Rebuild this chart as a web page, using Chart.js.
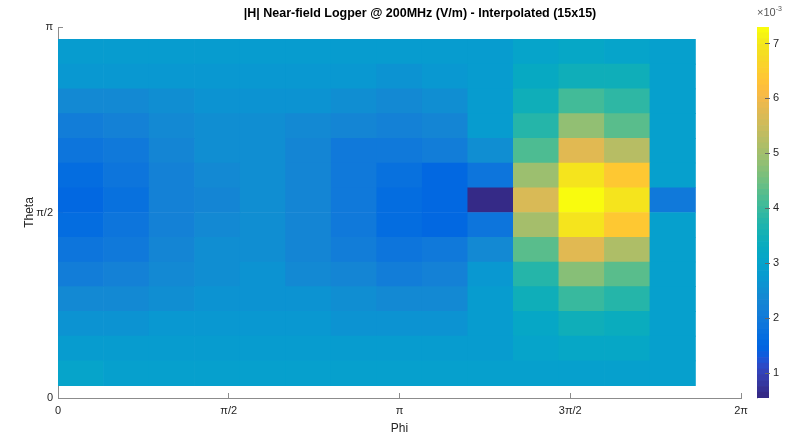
<!DOCTYPE html>
<html>
<head>
<meta charset="utf-8">
<script src="https://cdn.jsdelivr.net/npm/chart.js@4.4.1/dist/chart.umd.min.js"></script>
<style>
  html, body { margin: 0; padding: 0; background: #fff; }
  #wrap { position: relative; width: 811px; height: 437px; overflow: hidden; }
  #field { position: absolute; left: 0; top: 0; }
  #cbar { position: absolute; left: 757px; top: 0; }
  #title { position: absolute; left: 170px; width: 500px; top: 6px; text-align: center;
           font: bold 12.5px 'Liberation Sans', Arial, sans-serif; color: #000; white-space: nowrap; }
  #cbExp { position: absolute; left: 757px; top: 5px; font: 11px 'Liberation Sans', Arial, sans-serif; color: #555; }
  #cbExp sup { font-size: 7px; }
</style>
</head>
<body>
<div id="wrap">
  <canvas id="field" width="811" height="437"></canvas>
  <canvas id="cbar" width="54" height="437"></canvas>
  <div id="title">|H| Near-field Logper @ 200MHz (V/m) - Interpolated (15x15)</div>
  <div id="cbExp">&times;10<sup>-3</sup></div>
</div>
<script>
// |H| samples in units of 1e-3 V/m, one array per theta row (bottom row first),
// 14 phi cells each
const row01 = [3.0, 2.9, 2.9, 2.9, 2.9, 2.9, 2.9, 2.9, 2.9, 2.9, 2.95, 2.95, 2.95, 2.9];
const row02 = [2.85, 2.8, 2.8, 2.8, 2.8, 2.8, 2.8, 2.8, 2.8, 2.85, 3.05, 3.1, 3.1, 2.9];
const row03 = [2.65, 2.65, 2.7, 2.7, 2.75, 2.7, 2.65, 2.6, 2.65, 2.85, 3.15, 3.4, 3.3, 2.9];
const row04 = [2.4, 2.4, 2.5, 2.6, 2.65, 2.6, 2.5, 2.35, 2.4, 2.85, 3.4, 4.0, 3.8, 2.9];
const row05 = [2.1, 2.2, 2.4, 2.55, 2.6, 2.4, 2.25, 2.1, 2.2, 2.75, 3.8, 4.7, 4.3, 2.9];
const row06 = [1.85, 2.0, 2.3, 2.45, 2.55, 2.3, 2.1, 1.85, 1.95, 2.35, 4.3, 5.8, 5.1, 2.9];
const row07 = [1.65, 1.85, 2.2, 2.35, 2.45, 2.25, 1.95, 1.7, 1.55, 1.85, 5.0, 6.9, 6.4, 2.9];
const row08 = [1.6, 1.8, 2.15, 2.3, 2.45, 2.25, 1.95, 1.7, 1.5, 0.55, 5.7, 7.3, 6.9, 2.0];
const row09 = [1.65, 1.85, 2.2, 2.35, 2.45, 2.25, 1.95, 1.75, 1.55, 1.85, 4.9, 6.9, 6.4, 2.9];
const row10 = [1.85, 2.0, 2.3, 2.45, 2.5, 2.3, 2.0, 1.95, 2.05, 2.45, 4.2, 5.8, 5.2, 2.9];
const row11 = [2.1, 2.2, 2.4, 2.5, 2.55, 2.4, 2.3, 2.2, 2.3, 2.85, 3.8, 4.8, 4.3, 2.9];
const row12 = [2.4, 2.4, 2.55, 2.6, 2.65, 2.6, 2.5, 2.4, 2.5, 2.85, 3.4, 4.1, 3.9, 2.9];
const row13 = [2.7, 2.7, 2.7, 2.75, 2.75, 2.75, 2.7, 2.65, 2.7, 2.85, 3.2, 3.5, 3.4, 2.9];
const row14 = [2.8, 2.8, 2.8, 2.8, 2.8, 2.8, 2.8, 2.8, 2.8, 2.85, 3.0, 3.1, 3.0, 2.9];
const rows = [row01, row02, row03, row04, row05, row06, row07, row08, row09, row10, row11, row12, row13, row14];

// 15x15 grid (pcolor drops the last row/column of cells)
function linspace(a, b, n) {
  let out = [];
  for (let i = 0; i < n; i++) out.push(a + (b - a) * i / (n - 1));
  return out;
}
const phiGrid = linspace(0, 2 * Math.PI * 14 / 15, 15);
const thetaGrid = linspace(Math.PI / 30, Math.PI * 29 / 30, 15);

const phiTicks = [0, Math.PI / 2, Math.PI, 3 * Math.PI / 2, 2 * Math.PI];
const phiTickLabels = ['0', 'π/2', 'π', '3π/2', '2π'];
const thetaTicks = [0, Math.PI / 2, Math.PI];
const thetaTickLabels = ['0', 'π/2', 'π'];
const cbTicks = [1, 2, 3, 4, 5, 6, 7];

// colour limits (min / max of the data)
const cmin = 0.55;
const cmax = 7.3;

// parula, 64 entries
const parula = [
  [0.2081,0.1663,0.5292],[0.2116,0.1898,0.5777],[0.2123,0.2138,0.6270],[0.2081,0.2386,0.6771],
  [0.1959,0.2645,0.7279],[0.1707,0.2919,0.7792],[0.1253,0.3242,0.8303],[0.0591,0.3598,0.8683],
  [0.0117,0.3875,0.8820],[0.0060,0.4086,0.8828],[0.0165,0.4266,0.8786],[0.0329,0.4430,0.8720],
  [0.0498,0.4586,0.8641],[0.0629,0.4737,0.8554],[0.0723,0.4887,0.8467],[0.0779,0.5040,0.8384],
  [0.0793,0.5200,0.8312],[0.0749,0.5375,0.8263],[0.0641,0.5570,0.8240],[0.0488,0.5772,0.8228],
  [0.0343,0.5966,0.8199],[0.0265,0.6137,0.8135],[0.0239,0.6287,0.8038],[0.0231,0.6418,0.7913],
  [0.0228,0.6535,0.7768],[0.0267,0.6642,0.7607],[0.0384,0.6743,0.7436],[0.0590,0.6838,0.7254],
  [0.0843,0.6928,0.7062],[0.1133,0.7015,0.6859],[0.1453,0.7098,0.6646],[0.1801,0.7177,0.6424],
  [0.2178,0.7250,0.6193],[0.2586,0.7317,0.5954],[0.3022,0.7376,0.5712],[0.3482,0.7424,0.5473],
  [0.3953,0.7459,0.5244],[0.4420,0.7481,0.5033],[0.4871,0.7491,0.4840],[0.5300,0.7491,0.4661],
  [0.5709,0.7485,0.4494],[0.6099,0.7473,0.4337],[0.6473,0.7456,0.4188],[0.6834,0.7435,0.4044],
  [0.7184,0.7411,0.3905],[0.7525,0.7384,0.3768],[0.7858,0.7356,0.3633],[0.8185,0.7327,0.3498],
  [0.8507,0.7299,0.3360],[0.8824,0.7274,0.3217],[0.9139,0.7258,0.3063],[0.9450,0.7261,0.2886],
  [0.9739,0.7314,0.2666],[0.9938,0.7455,0.2403],[0.9990,0.7653,0.2164],[0.9955,0.7861,0.1967],
  [0.9880,0.8066,0.1794],[0.9789,0.8271,0.1633],[0.9697,0.8481,0.1475],[0.9626,0.8705,0.1309],
  [0.9589,0.8949,0.1132],[0.9598,0.9218,0.0948],[0.9661,0.9514,0.0755],[0.9763,0.9831,0.0538]
];

function rgb(c) {
  return 'rgb(' + Math.round(c[0] * 255) + ',' + Math.round(c[1] * 255) + ',' + Math.round(c[2] * 255) + ')';
}
function colorFor(v) {
  let idx = Math.floor((v - cmin) / (cmax - cmin) * parula.length);
  idx = Math.max(0, Math.min(parula.length - 1, idx));
  return rgb(parula[idx]);
}

const FONT = "'Liberation Sans', Arial, Helvetica, sans-serif";
const TEXT = '#262626';
const AXIS = '#8c8c8c';

// one floating-bar dataset per theta row
let datasets = [];
for (let i = 0; i < rows.length; i++) {
  let pts = [];
  let cols = [];
  for (let j = 0; j < rows[i].length; j++) {
    pts.push({ x: (phiGrid[j] + phiGrid[j + 1]) / 2, y: [thetaGrid[i], thetaGrid[i + 1]] });
    cols.push(colorFor(rows[i][j]));
  }
  datasets.push({ data: pts, backgroundColor: cols });
}

new Chart(document.getElementById('field'), {
  type: 'bar',
  data: { datasets: datasets },
  options: {
    responsive: false,
    animation: false,
    layout: { padding: { left: 0, right: 70, top: 27, bottom: 0 } },
    datasets: {
      bar: { grouped: false, barPercentage: 1, categoryPercentage: 1, borderWidth: 0 }
    },
    plugins: {
      legend: { display: false },
      tooltip: { enabled: false }
    },
    scales: {
      x: {
        type: 'linear',
        min: 0,
        max: 2 * Math.PI,
        offset: false,
        afterBuildTicks: function (scale) {
          scale.ticks = phiTicks.map(v => ({ value: v }));
        },
        afterFit: function (scale) { scale.height = 39; },
        ticks: {
          color: TEXT,
          font: { family: FONT, size: 11 },
          padding: 11,
          maxRotation: 0,
          callback: function (value, index) { return phiTickLabels[index]; }
        },
        grid: { offset: false, drawOnChartArea: false, drawTicks: true, tickLength: -5, color: AXIS },
        border: { display: true, color: AXIS },
        title: {
          display: true,
          text: 'Phi',
          color: TEXT,
          font: { family: FONT, size: 12 },
          padding: { top: 0, bottom: 1 }
        }
      },
      y: {
        type: 'linear',
        min: 0,
        max: Math.PI,
        afterBuildTicks: function (scale) {
          scale.ticks = thetaTicks.map(v => ({ value: v }));
        },
        afterFit: function (scale) { scale.width = 58; },
        ticks: {
          color: TEXT,
          font: { family: FONT, size: 11 },
          padding: 10,
          callback: function (value, index) { return thetaTickLabels[index]; }
        },
        grid: { drawOnChartArea: false, drawTicks: true, tickLength: -5, color: AXIS },
        border: { display: true, color: AXIS },
        title: {
          display: true,
          text: 'Theta',
          color: TEXT,
          font: { family: FONT, size: 12 },
          padding: { top: 22, bottom: 0 }
        }
      }
    }
  }
});

// colour bar: 64 bands through a linear value axis
let cbSets = [];
const step = (cmax - cmin) / parula.length;
for (let k = 0; k < parula.length; k++) {
  cbSets.push({ data: [[cmin + k * step, cmin + (k + 1) * step]], backgroundColor: rgb(parula[k]) });
}

new Chart(document.getElementById('cbar'), {
  type: 'bar',
  data: { labels: ['cb'], datasets: cbSets },
  options: {
    responsive: false,
    animation: false,
    layout: { padding: { left: 0, right: 0, top: 27, bottom: 39 } },
    datasets: {
      bar: { grouped: false, barPercentage: 1, categoryPercentage: 1, borderWidth: 0 }
    },
    plugins: { legend: { display: false }, tooltip: { enabled: false } },
    scales: {
      x: { display: false },
      y: {
        position: 'right',
        min: cmin,
        max: cmax,
        afterBuildTicks: function (scale) {
          scale.ticks = cbTicks.map(v => ({ value: v }));
        },
        afterFit: function (scale) { scale.width = 42; },
        ticks: {
          color: TEXT,
          font: { family: FONT, size: 11 },
          padding: 8
        },
        grid: { drawOnChartArea: false, drawTicks: true, tickLength: -4, color: '#666', z: 1 },
        border: { display: true, color: '#aaa' }
      }
    }
  }
});
</script>
</body>
</html>
